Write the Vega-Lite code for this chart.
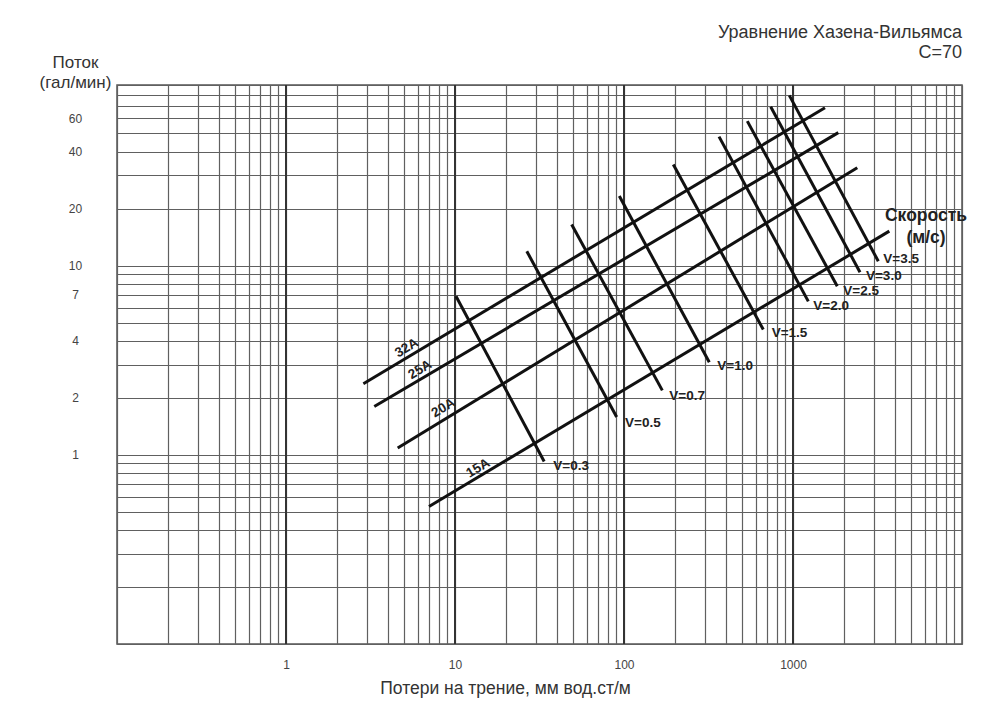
{
  "$schema": "https://vega.github.io/schema/vega-lite/v6.json",
  "width": 845,
  "height": 559,
  "autosize": {"type": "none"},
  "padding": {"left": 117, "top": 85, "right": 29, "bottom": 78},
  "background": "white",
  "config": {
    "font": "Liberation Sans",
    "view": {"stroke": "#555555", "strokeWidth": 1.5}
  },
  "title": {
    "text": ["Уравнение Хазена-Вильямса", "C=70"],
    "anchor": "end",
    "frame": "group",
    "orient": "top",
    "align": "right",
    "baseline": "middle",
    "fontSize": 18,
    "fontWeight": "normal",
    "color": "#333333",
    "lineHeight": 20,
    "offset": -18
  },
  "datasets": {
    "lines": [
      {"series": "32A", "loss": 2.87, "flow": 2.375},
      {"series": "32A", "loss": 1546, "flow": 68.3},
      {"series": "25A", "loss": 3.33, "flow": 1.8},
      {"series": "25A", "loss": 1854, "flow": 50.4},
      {"series": "20A", "loss": 4.58, "flow": 1.085},
      {"series": "20A", "loss": 2400, "flow": 32.9},
      {"series": "15A", "loss": 7.02, "flow": 0.533},
      {"series": "15A", "loss": 3715, "flow": 15.2},
      {"series": "V=0.3", "loss": 10.14, "flow": 6.88},
      {"series": "V=0.3", "loss": 33.7, "flow": 0.922},
      {"series": "V=0.5", "loss": 26.6, "flow": 11.9},
      {"series": "V=0.5", "loss": 90.5, "flow": 1.583},
      {"series": "V=0.7", "loss": 49.0, "flow": 16.5},
      {"series": "V=0.7", "loss": 168.5, "flow": 2.19},
      {"series": "V=1.0", "loss": 93.8, "flow": 23.3},
      {"series": "V=1.0", "loss": 319.6, "flow": 3.08},
      {"series": "V=1.5", "loss": 195.8, "flow": 34.2},
      {"series": "V=1.5", "loss": 667, "flow": 4.59},
      {"series": "V=2.0", "loss": 365, "flow": 48.0},
      {"series": "V=2.0", "loss": 1232, "flow": 6.47},
      {"series": "V=2.5", "loss": 536.5, "flow": 58.0},
      {"series": "V=2.5", "loss": 1828, "flow": 7.77},
      {"series": "V=3.0", "loss": 738, "flow": 69.1},
      {"series": "V=3.0", "loss": 2491, "flow": 9.22},
      {"series": "V=3.5", "loss": 951, "flow": 79.3},
      {"series": "V=3.5", "loss": 3197, "flow": 10.54}
    ],
    "vlabels": [
      {"label": "V=0.3", "loss": 38.2, "flow": 0.875},
      {"label": "V=0.5", "loss": 101.4, "flow": 1.47},
      {"label": "V=0.7", "loss": 185.4, "flow": 2.05},
      {"label": "V=1.0", "loss": 356.5, "flow": 2.93},
      {"label": "V=1.5", "loss": 748, "flow": 4.4},
      {"label": "V=2.0", "loss": 1318, "flow": 6.14},
      {"label": "V=2.5", "loss": 1984, "flow": 7.37},
      {"label": "V=3.0", "loss": 2703, "flow": 8.85},
      {"label": "V=3.5", "loss": 3422, "flow": 10.89}
    ],
    "plabels": [
      {"label": "32A", "loss": 5.18, "flow": 3.67},
      {"label": "25A", "loss": 6.21, "flow": 2.82},
      {"label": "20A", "loss": 8.53, "flow": 1.77},
      {"label": "15A", "loss": 13.7, "flow": 0.85}
    ],
    "slabels": [
      {"label": "Скорость", "loss": 6124, "flow": 18.2},
      {"label": "(м/с)", "loss": 6124, "flow": 14.0}
    ],
    "decades": [
      {"loss": 1, "flow": 0.1, "flow2": 90},
      {"loss": 10, "flow": 0.1, "flow2": 90},
      {"loss": 100, "flow": 0.1, "flow2": 90},
      {"loss": 1000, "flow": 0.1, "flow2": 90}
    ]
  },
  "encoding": {
    "x": {
      "field": "loss",
      "type": "quantitative",
      "scale": {"type": "log", "domain": [0.1, 10000], "nice": false},
      "axis": {
        "orient": "bottom",
        "values": [0.1, 0.2, 0.3, 0.4, 0.5, 0.6, 0.7, 0.8, 0.9, 1, 2, 3, 4, 5, 6, 7, 8, 9, 10, 20, 30, 40, 50, 60, 70, 80, 90, 100, 200, 300, 400, 500, 600, 700, 800, 900, 1000, 2000, 3000, 4000, 5000, 6000, 7000, 8000, 9000, 10000],
        "labelExpr": "indexof([1, 10, 100, 1000], datum.value) >= 0 ? datum.value + '' : ''",
        "grid": true,
        "gridColor": "#606060",
        "gridWidth": 1.2,
        "gridOpacity": 1,
        "ticks": false,
        "tickSize": 0,
        "domain": false,
        "labelOverlap": false,
        "labelFlush": false,
        "labelBound": false,
        "labelFontSize": 12,
        "labelColor": "#444444",
        "labelBaseline": "middle",
        "labelPadding": 20,
        "title": "Потери на трение, мм вод.ст/м",
        "titleFontSize": 17.5,
        "titleFontWeight": "normal",
        "titleColor": "#333333",
        "titleAlign": "center",
        "titleBaseline": "middle",
        "titleX": 388,
        "titleY": 44
      }
    },
    "y": {
      "field": "flow",
      "type": "quantitative",
      "scale": {"type": "log", "domain": [0.1, 90], "nice": false},
      "axis": {
        "orient": "left",
        "values": [0.1, 0.2, 0.3, 0.4, 0.5, 0.6, 0.7, 0.8, 0.9, 1, 2, 3, 4, 5, 6, 7, 8, 9, 10, 20, 30, 40, 50, 60, 70, 80, 90],
        "labelExpr": "indexof([1, 2, 4, 7, 10, 20, 40, 60], datum.value) >= 0 ? datum.value + '' : ''",
        "grid": true,
        "gridColor": "#606060",
        "gridWidth": 1.2,
        "gridOpacity": 1,
        "ticks": false,
        "tickSize": 0,
        "domain": false,
        "labelOverlap": false,
        "labelFlush": false,
        "labelBound": false,
        "labelFontSize": 12,
        "labelColor": "#444444",
        "labelAlign": "center",
        "labelBaseline": "middle",
        "labelPadding": 42,
        "title": ["Поток", "(гал/мин)"],
        "titleFontSize": 17,
        "titleFontWeight": "normal",
        "titleColor": "#333333",
        "titleAngle": 0,
        "titleAlign": "center",
        "titleBaseline": "middle",
        "titleLineHeight": 20,
        "titleX": -42,
        "titleY": -23
      }
    }
  },
  "layer": [
    {
      "data": {"name": "decades"},
      "mark": {"type": "rule", "color": "#333333", "strokeWidth": 2},
      "encoding": {"y2": {"field": "flow2"}}
    },
    {
      "data": {"name": "lines"},
      "mark": {"type": "line", "color": "#111111", "strokeWidth": 3, "strokeCap": "butt"},
      "encoding": {"detail": {"field": "series", "type": "nominal"}}
    },
    {
      "data": {"name": "vlabels"},
      "mark": {"type": "text", "align": "left", "baseline": "middle", "fontSize": 13.5, "fontWeight": "bold", "color": "#222222"},
      "encoding": {"text": {"field": "label", "type": "nominal"}}
    },
    {
      "data": {"name": "plabels"},
      "mark": {"type": "text", "align": "center", "baseline": "middle", "angle": -31, "fontSize": 13.5, "fontWeight": "bold", "color": "#222222"},
      "encoding": {"text": {"field": "label", "type": "nominal"}}
    },
    {
      "data": {"name": "slabels"},
      "mark": {"type": "text", "align": "center", "baseline": "middle", "fontSize": 17.5, "fontWeight": "bold", "color": "#222222"},
      "encoding": {"text": {"field": "label", "type": "nominal"}}
    }
  ]
}
